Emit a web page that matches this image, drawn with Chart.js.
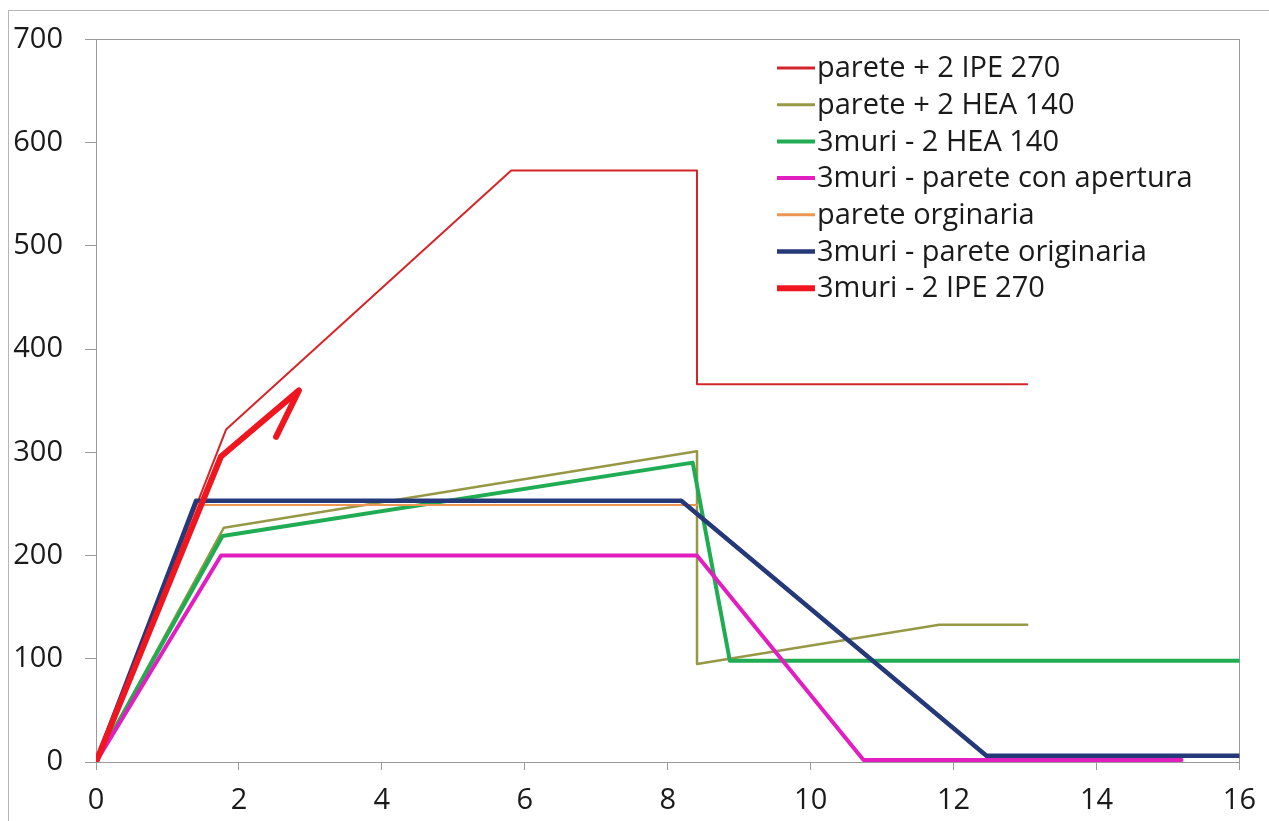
<!DOCTYPE html>
<html>
<head>
<meta charset="utf-8">
<script src="https://cdn.jsdelivr.net/npm/chart.js@4"></script>
<style>
  body { margin: 0; background: #fff; }
  #chart { display: block; }
</style>
</head>
<body>
<canvas id="chart" width="1269" height="821"></canvas>
<script>
// series labels, in legend order
const seriesNames = [
    'parete + 2 IPE 270',
    'parete + 2 HEA 140',
    '3muri - 2 HEA 140',
    '3muri - parete con apertura',
    'parete orginaria',
    '3muri - parete originaria',
    '3muri - 2 IPE 270'
];

// values
const ipeWallX = [0, 1.82, 5.81, 8.41, 8.41, 13.03];
const ipeWallY = [0, 322, 573, 573, 366, 366];

const heaWallX = [0, 1.79, 8.41, 8.41, 11.8, 13.03];
const heaWallY = [0, 227, 301, 95, 133, 133];

const heaMuriX = [0, 1.77, 8.35, 8.87, 16];
const heaMuriY = [0, 219, 290, 98, 98];

const openingMuriX = [0, 1.75, 8.41, 10.74, 15.19];
const openingMuriY = [0, 200, 200, 2, 2];

const originalWallX = [0, 1.47, 8.41];
const originalWallY = [0, 249, 249];

const originalMuriX = [0, 1.40, 8.19, 12.46, 16];
const originalMuriY = [0, 253, 253, 6, 6];

const ipeMuriX = [0, 1.75, 2.84, 2.52];
const ipeMuriY = [0, 296, 360, 315];

const xTicks = [0, 2, 4, 6, 8, 10, 12, 14, 16];
const yTicks = [0, 100, 200, 300, 400, 500, 600, 700];

const colors = ['rgb(212,38,42)', 'rgb(150,152,70)', 'rgb(32,172,82)', 'rgb(226,30,192)',
                'rgb(236,150,84)', 'rgb(36,56,122)', 'rgb(240,22,32)'];
const widths = [2, 2.5, 4, 4, 2, 4.5, 6];

function pts(xs, ys) {
    return xs.map((x, i) => ({ x: x, y: ys[i] }));
}

const allData = [
    pts(ipeWallX, ipeWallY),
    pts(heaWallX, heaWallY),
    pts(heaMuriX, heaMuriY),
    pts(openingMuriX, openingMuriY),
    pts(originalWallX, originalWallY),
    pts(originalMuriX, originalMuriY),
    pts(ipeMuriX, ipeMuriY)
];

const datasets = allData.map((d, i) => ({
    label: seriesNames[i],
    data: d,
    showLine: true,
    borderColor: colors[i],
    backgroundColor: colors[i],
    borderWidth: widths[i],
    borderJoinStyle: 'round',
    borderCapStyle: 'round',
    pointRadius: 0,
    order: allData.length - 1 - i
}));

const FONT = '"Open Sans", sans-serif';

// frame around plot area + outer picture border
const framePlugin = {
    id: 'frame',
    beforeDatasetsDraw(chart) {
        const ctx = chart.ctx;
        const a = chart.chartArea;
        ctx.save();
        ctx.strokeStyle = '#b5b5b5';
        ctx.lineWidth = 1;
        ctx.strokeRect(8.5, 10.5, 1270, 830);
        ctx.strokeStyle = '#9a9a9a';
        ctx.strokeRect(Math.round(a.left) + 0.5, Math.round(a.top) + 0.5,
                       Math.round(a.right - a.left), Math.round(a.bottom - a.top));
        ctx.restore();
    }
};

// legend drawn inside the plot like the original
const legendPlugin = {
    id: 'insideLegend',
    afterDatasetsDraw(chart) {
        const ctx = chart.ctx;
        ctx.save();
        ctx.font = '29px ' + FONT;
        ctx.textBaseline = 'middle';
        chart.data.datasets.forEach((ds, i) => {
            const y = 68 + i * 36.7;
            ctx.strokeStyle = ds.borderColor;
            ctx.lineWidth = Math.max(3, ds.borderWidth);
            ctx.beginPath();
            ctx.moveTo(777, y);
            ctx.lineTo(815, y);
            ctx.stroke();
            ctx.fillStyle = '#1a1a1a';
            ctx.fillText(ds.label, 817, y + 1);
        });
        ctx.restore();
    }
};

new Chart(document.getElementById('chart'), {
    type: 'scatter',
    data: { datasets: datasets },
    options: {
        responsive: false,
        animation: false,
        layout: { padding: { left: 0, right: 27, top: 31, bottom: 0 } },
        plugins: {
            legend: { display: false },
            tooltip: { enabled: false }
        },
        scales: {
            x: {
                type: 'linear',
                min: 0,
                max: 16,
                afterBuildTicks: s => { s.ticks = xTicks.map(v => ({ value: v })); },
                afterFit: s => { s.height = 59; },
                grid: { drawOnChartArea: false, tickLength: 8, tickColor: '#9a9a9a' },
                border: { color: '#9a9a9a' },
                ticks: { color: '#1a1a1a', padding: 13, font: { family: FONT, size: 29 } }
            },
            y: {
                type: 'linear',
                min: 0,
                max: 700,
                afterBuildTicks: s => { s.ticks = yTicks.map(v => ({ value: v })); },
                afterFit: s => { s.width = 96; },
                grid: { drawOnChartArea: false, tickLength: 11, tickColor: '#9a9a9a' },
                border: { color: '#9a9a9a' },
                ticks: { color: '#1a1a1a', padding: 22, font: { family: FONT, size: 29 } }
            }
        }
    },
    plugins: [framePlugin, legendPlugin]
});
</script>
</body>
</html>
